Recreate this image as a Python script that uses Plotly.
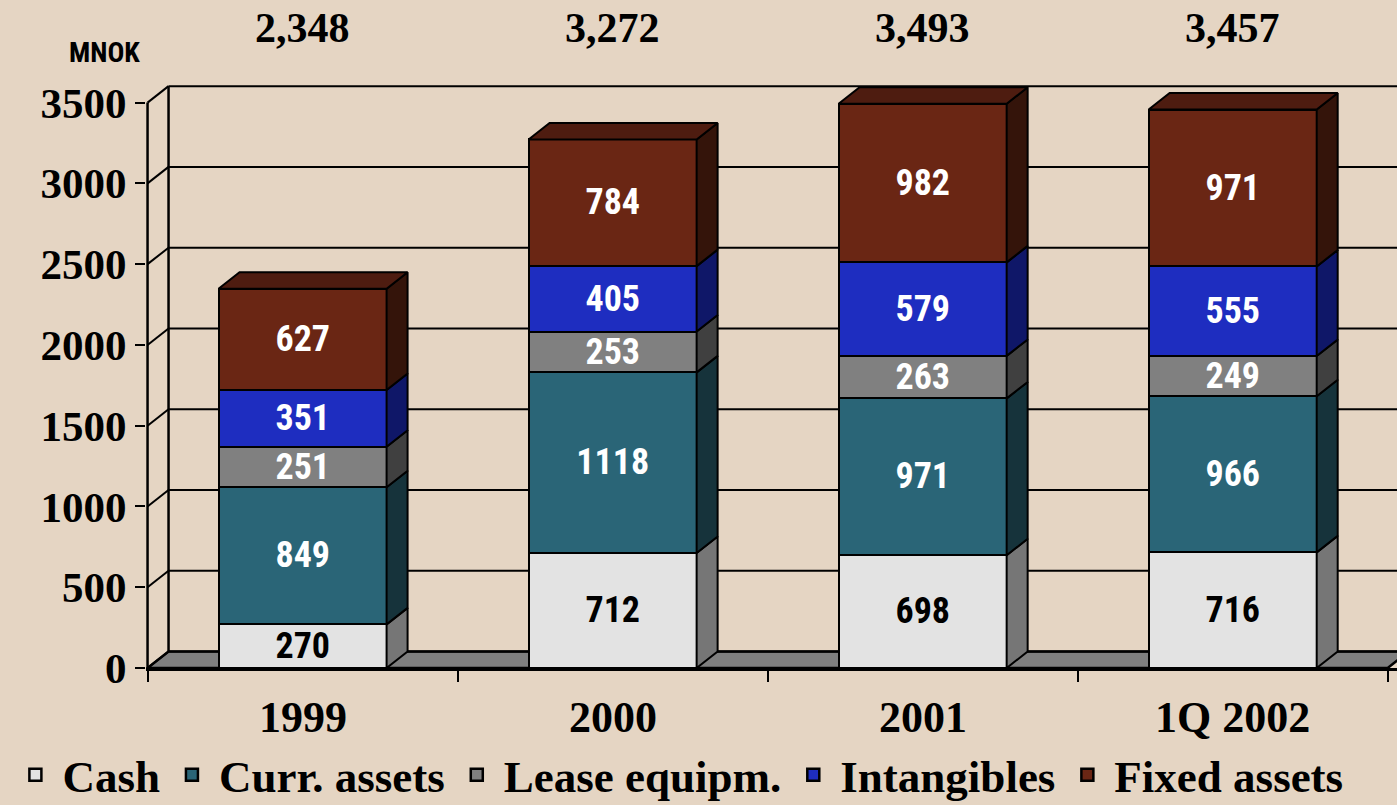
import plotly.graph_objects as go

# ---------------- data ----------------
categories = ["1999", "2000", "2001", "1Q 2002"]
series_names = ["Cash", "Curr. assets", "Lease equipm.", "Intangibles", "Fixed assets"]
cash = [270, 712, 698, 716]
curr_assets = [849, 1118, 971, 966]
lease_equipm = [251, 253, 263, 249]
intangibles = [351, 405, 579, 555]
fixed_assets = [627, 784, 982, 971]
y_ticks = [0, 500, 1000, 1500, 2000, 2500, 3000, 3500]
unit_label = "MNOK"

# ---------------- style ----------------
series = [cash, curr_assets, lease_equipm, intangibles, fixed_assets]
front_colors = ["#E3E3E3", "#2A6577", "#808080", "#1E2DC0", "#6A2614"]
side_colors = ["#767676", "#16333B", "#404040", "#0F1768", "#34140A"]
top_color = "#4E1C10"
text_colors = ["black", "white", "white", "white", "white"]
BG = "#E5D5C3"
SERIF = "Liberation Serif, Times New Roman, serif"
NARROW = "Liberation Sans Narrow, Arial Narrow, Roboto Condensed, sans-serif"

BAR_W = 0.542      # bar width in category units
DX = 0.0677        # depth offset (x units)
DY = 102           # depth offset (y units)
X_LO, X_HI = -0.505, 3.53
Y_MAX = 3640
n = len(categories)
xs = list(range(n))
left_edge = -0.5
right_edge = n - 0.5

fig = go.Figure()

# front faces
for name, vals, fc, tc in zip(series_names, series, front_colors, text_colors):
    fig.add_trace(go.Bar(
        x=xs, y=vals, name=name, width=BAR_W,
        marker=dict(color=fc, line=dict(color="black", width=2.5)),
        text=[str(v) for v in vals], textposition="inside",
        insidetextanchor="middle", constraintext="none", textangle=0,
        textfont=dict(family=NARROW, size=36, color=tc, weight="bold"),
        hoverinfo="skip",
    ))

# side faces (and top face of highest segment) computed from the data
bottoms = [0] * n
for idx, (vals, sc) in enumerate(zip(series, side_colors)):
    px, py = [], []
    for i in range(n):
        b = bottoms[i]
        t = b + vals[i]
        xr = xs[i] + BAR_W / 2
        px += [xr, xr + DX, xr + DX, xr, xr, None]
        py += [b, b + DY, t + DY, t, b, None]
    fig.add_trace(go.Scatter(
        x=px, y=py, mode="lines", fill="toself", fillcolor=sc,
        line=dict(color="black", width=2), showlegend=False, hoverinfo="skip",
    ))
    bottoms = [bottoms[i] + vals[i] for i in range(n)]

totals = bottoms
tx, ty = [], []
for i in range(n):
    xl = xs[i] - BAR_W / 2
    xr = xs[i] + BAR_W / 2
    t = totals[i]
    tx += [xl, xl + DX, xr + DX, xr, xl, None]
    ty += [t, t + DY, t + DY, t, t, None]
fig.add_trace(go.Scatter(
    x=tx, y=ty, mode="lines", fill="toself", fillcolor=top_color,
    line=dict(color="black", width=2), showlegend=False, hoverinfo="skip",
))

# ---------------- walls, floor, gridlines ----------------
shapes = []
floor_path = (f"M {left_edge},0 L {left_edge + DX},{DY} L {right_edge + DX},{DY} "
              f"L {right_edge},0 Z")
shapes.append(dict(type="path", path=floor_path, xref="x", yref="y",
                   fillcolor="#7F7F7F", line=dict(color="black", width=2.5),
                   layer="below"))
for v in y_ticks:
    shapes.append(dict(type="line", xref="x", yref="y",
                       x0=left_edge + DX, y0=v + DY, x1=right_edge + DX, y1=v + DY,
                       line=dict(color="black", width=2), layer="below"))
    shapes.append(dict(type="line", xref="x", yref="y",
                       x0=left_edge, y0=v, x1=left_edge + DX, y1=v + DY,
                       line=dict(color="black", width=2), layer="below"))
shapes.append(dict(type="line", xref="x", yref="y",
                   x0=left_edge + DX, y0=DY, x1=left_edge + DX, y1=y_ticks[-1] + DY,
                   line=dict(color="black", width=2.5), layer="below"))
shapes.append(dict(type="line", xref="x", yref="y",
                   x0=left_edge, y0=0, x1=left_edge, y1=y_ticks[-1],
                   line=dict(color="black", width=2.5), layer="below"))

# ---------------- annotations ----------------
annotations = []
for i, c in enumerate(categories):
    annotations.append(dict(x=xs[i], y=-0.085, xref="x", yref="paper", text=c,
                            showarrow=False, xanchor="center", yanchor="middle",
                            font=dict(family=SERIF, size=44, color="black", weight="bold")))
    annotations.append(dict(x=xs[i], y=1.088, xref="x", yref="paper", text=f"{totals[i]:,}",
                            showarrow=False, xanchor="center", yanchor="middle",
                            font=dict(family=SERIF, size=42, color="black", weight="bold")))
annotations.append(dict(x=-0.0328, y=1.0476, xref="paper", yref="paper", text=unit_label,
                        showarrow=False, xanchor="center", yanchor="middle",
                        font=dict(family=NARROW, size=28, color="black", weight="bold")))

fig.update_layout(
    width=1397, height=805,
    barmode="stack", bargap=0,
    paper_bgcolor=BG, plot_bgcolor=BG,
    margin=dict(l=146, r=0, t=80, b=137, autoexpand=False),
    shapes=shapes, annotations=annotations,
    showlegend=True,
    legend=dict(orientation="h", traceorder="normal",
                x=-0.11, xanchor="left", y=-0.182, yanchor="middle",
                font=dict(family=SERIF, size=45, color="black", weight="bold"),
                bgcolor="rgba(0,0,0,0)", itemwidth=44),
    xaxis=dict(range=[X_LO, X_HI], showgrid=False, zeroline=False,
               showline=True, linecolor="black", linewidth=2.5,
               tickmode="array", tickvals=[k - 0.5 for k in range(n + 1)],
               ticktext=[""] * (n + 1), ticks="outside", ticklen=11,
               tickwidth=2, tickcolor="black", automargin=False, fixedrange=True),
    yaxis=dict(range=[0, Y_MAX], showgrid=False, zeroline=False, showline=False,
               tickmode="array", tickvals=y_ticks, ticks="outside", ticklen=10,
               tickwidth=2, tickcolor="black", automargin=False, fixedrange=True,
               tickfont=dict(family=SERIF, size=43, color="black", weight="bold")),
)

fig.write_html("out.html", config={"displayModeBar": False},
               post_script="document.body.style.margin='0';")
